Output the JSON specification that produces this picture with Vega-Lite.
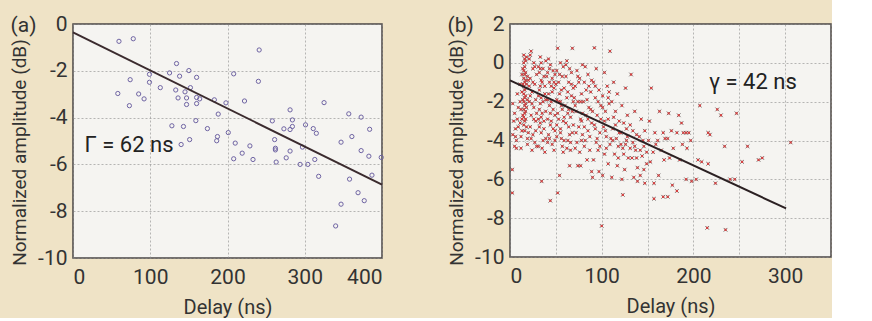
{
 "$schema": "https://vega.github.io/schema/vega-lite/v6.json",
 "background": "#efe3c6",
 "padding": {"left": 9, "top": 12, "right": 0, "bottom": 0},
 "spacing": 59,
 "config": {
  "font": "Roboto, sans-serif",
  "view": {"fill": "#f5f4f1", "stroke": "#4a4545", "strokeWidth": 1.5},
  "axis": {"labelFontSize": 21, "titleFontSize": 20, "labelColor": "#333", "titleColor": "#333", "titleFontWeight": "normal", "gridColor": "#8a8a8a", "gridDash": [2, 2], "gridOpacity": 0.6, "domain": false, "ticks": false, "labelPadding": 6, "labelOverlap": false, "labelSeparation": 0},
  "axisX": {"titlePadding": 10, "labelPadding": 8},
  "axisY": {"titleY": 128, "titlePadding": 8, "titleFontSize": 19},
  "title": {"fontSize": 21, "fontWeight": "normal", "color": "#333", "anchor": "start", "frame": "bounds", "dy": 3}
 },
 "datasets": {
  "b": [
      {"delay":3,"amp":-2.1},{"delay":5,"amp":-2.6},{"delay":4,"amp":-3.0},{"delay":6,"amp":-3.4},{"delay":3,"amp":-3.7},{"delay":7,"amp":-4.0},{"delay":5,"amp":-4.3},{"delay":8,"amp":-1.6},{"delay":8,"amp":-2.9},{"delay":9,"amp":-3.3},{"delay":2.5,"amp":-5.5},{"delay":2.5,"amp":-6.7},{"delay":6,"amp":-3.8},{"delay":9,"amp":-2.3},{"delay":7,"amp":-4.4},
      {"delay":15,"amp":0.4},{"delay":16,"amp":0.2},{"delay":15,"amp":0.0},{"delay":16,"amp":-0.2},{"delay":15,"amp":-0.4},{"delay":16,"amp":-0.6},{"delay":15,"amp":-0.8},{"delay":16,"amp":-1.0},{"delay":15,"amp":-1.2},{"delay":16,"amp":-1.4},{"delay":15,"amp":-1.6},{"delay":16,"amp":-1.8},{"delay":15,"amp":-2.0},{"delay":16,"amp":-2.2},{"delay":15,"amp":-2.4},{"delay":16,"amp":-2.6},{"delay":15,"amp":-2.8},{"delay":16,"amp":-3.0},{"delay":15,"amp":-3.2},{"delay":16,"amp":-3.5},{"delay":17,"amp":0.1},{"delay":17,"amp":-0.5},{"delay":17,"amp":-0.9},{"delay":17,"amp":-1.3},{"delay":17,"amp":-1.7},{"delay":17,"amp":-2.1},{"delay":17,"amp":-2.5},{"delay":17,"amp":-2.9},{"delay":14,"amp":-0.3},{"delay":14,"amp":-1.1},{"delay":14,"amp":-1.9},{"delay":14,"amp":-2.7},{"delay":12,"amp":-3.8},{"delay":19,"amp":-4.2},{"delay":12,"amp":-4.4},{"delay":11,"amp":-2.0},{"delay":11,"amp":-3.1},{"delay":13,"amp":-3.5},{"delay":19,"amp":-3.9},{"delay":18,"amp":0.3},
      {"delay":13,"amp":-0.6},{"delay":13,"amp":-1.5},{"delay":18,"amp":-1.1},{"delay":18,"amp":-2.3},{"delay":19,"amp":-0.7},{"delay":12,"amp":-2.4},{"delay":19,"amp":-1.9},{"delay":18,"amp":-3.3},{"delay":11,"amp":-1.1},{"delay":13,"amp":-2.9},
      {"delay":23,"amp":0.6},{"delay":21,"amp":0.2},{"delay":25,"amp":-0.3},{"delay":22,"amp":-0.8},{"delay":27,"amp":-1.1},{"delay":24,"amp":-1.5},{"delay":21,"amp":-2.0},{"delay":26,"amp":-2.3},{"delay":23,"amp":-2.7},{"delay":28,"amp":-3.0},{"delay":22,"amp":-3.3},{"delay":25,"amp":-3.7},{"delay":27,"amp":-4.1},{"delay":24,"amp":-4.5},{"delay":29,"amp":-0.6},{"delay":28,"amp":-1.9},{"delay":21,"amp":-1.2},{"delay":26,"amp":0.0},{"delay":29,"amp":-2.6},{"delay":23,"amp":-3.9},
      {"delay":20,"amp":-0.9},{"delay":22,"amp":-1.7},{"delay":24,"amp":-2.1},{"delay":26,"amp":-2.9},{"delay":28,"amp":-3.5},{"delay":20,"amp":-3.6},{"delay":27,"amp":-0.2},{"delay":25,"amp":-1.0},{"delay":29,"amp":-4.3},{"delay":22,"amp":0.4},
      {"delay":33,"amp":0.3},{"delay":34,"amp":0.0},{"delay":33,"amp":-0.3},{"delay":32,"amp":-0.5},{"delay":34,"amp":-0.9},{"delay":33,"amp":-1.2},{"delay":32,"amp":-1.4},{"delay":34,"amp":-1.8},{"delay":33,"amp":-2.1},{"delay":32,"amp":-2.4},{"delay":34,"amp":-2.8},{"delay":33,"amp":-3.1},{"delay":32,"amp":-3.3},{"delay":34,"amp":-3.6},{"delay":36,"amp":-4.0},{"delay":31,"amp":-4.3},{"delay":38,"amp":-4.6},{"delay":34.5,"amp":-6.1},{"delay":37,"amp":-0.7},{"delay":38,"amp":-1.6},{"delay":39,"amp":-2.5},{"delay":37,"amp":-3.0},{"delay":36,"amp":-2.0},{"delay":39,"amp":0.1},{"delay":35,"amp":-1.0},
      {"delay":31,"amp":-0.2},{"delay":31,"amp":-1.7},{"delay":35,"amp":-2.6},{"delay":37,"amp":-3.4},{"delay":39,"amp":-3.9},{"delay":36,"amp":-0.3},{"delay":38,"amp":-1.2},{"delay":31,"amp":-2.9},{"delay":35,"amp":-4.4},{"delay":39,"amp":-1.9},
      {"delay":42,"amp":0.2},{"delay":44,"amp":-0.1},{"delay":41,"amp":-0.5},{"delay":46,"amp":-0.8},{"delay":43,"amp":-1.0},{"delay":48,"amp":-1.3},{"delay":42,"amp":-1.6},{"delay":45,"amp":-2.0},{"delay":47,"amp":-2.4},{"delay":41,"amp":-2.9},{"delay":44,"amp":-3.2},{"delay":49,"amp":-3.5},{"delay":43,"amp":-3.9},{"delay":46,"amp":-4.2},{"delay":48,"amp":-4.5},{"delay":44,"amp":-7.1},{"delay":47,"amp":-0.4},{"delay":45,"amp":-1.2},{"delay":49,"amp":-2.7},{"delay":42,"amp":-3.7},{"delay":41,"amp":-1.9},{"delay":48,"amp":-1.0},
      {"delay":40,"amp":-0.7},{"delay":43,"amp":-2.2},{"delay":45,"amp":-3.0},{"delay":47,"amp":-3.4},{"delay":49,"amp":-4.0},{"delay":41,"amp":-4.1},{"delay":46,"amp":-1.5},{"delay":44,"amp":-2.6},{"delay":49,"amp":-0.6},{"delay":43,"amp":-0.3},
      {"delay":52,"amp":0.75},{"delay":55,"amp":0.0},{"delay":51,"amp":-0.4},{"delay":57,"amp":-0.7},{"delay":53,"amp":-1.0},{"delay":59,"amp":-1.3},{"delay":54,"amp":-1.6},{"delay":56,"amp":-2.2},{"delay":52,"amp":-2.6},{"delay":58,"amp":-3.0},{"delay":55,"amp":-3.4},{"delay":51,"amp":-3.8},{"delay":57,"amp":-4.3},{"delay":52,"amp":-6.7},{"delay":54,"amp":-5.8},{"delay":58,"amp":-0.2},{"delay":53,"amp":-2.0},{"delay":59,"amp":-2.8},{"delay":56,"amp":-3.9},{"delay":51,"amp":-1.9},
      {"delay":50,"amp":-1.1},{"delay":53,"amp":-2.9},{"delay":55,"amp":-3.6},{"delay":57,"amp":-2.4},{"delay":59,"amp":-4.0},{"delay":54,"amp":-0.6},{"delay":56,"amp":-1.4},{"delay":58,"amp":-4.6},{"delay":51,"amp":-3.2},{"delay":55,"amp":-2.0},
      {"delay":68,"amp":0.75},{"delay":62,"amp":0.1},{"delay":65,"amp":-0.3},{"delay":61,"amp":-0.7},{"delay":67,"amp":-1.1},{"delay":63,"amp":-1.5},{"delay":69,"amp":-2.0},{"delay":64,"amp":-2.4},{"delay":66,"amp":-2.8},{"delay":61,"amp":-3.1},{"delay":68,"amp":-3.6},{"delay":63,"amp":-4.0},{"delay":66,"amp":-4.5},{"delay":65,"amp":-5.3},{"delay":62,"amp":-1.8},{"delay":69,"amp":-1.3},{"delay":64,"amp":-3.3},{"delay":67,"amp":-0.5},
      {"delay":60,"amp":-2.2},{"delay":63,"amp":-2.6},{"delay":65,"amp":-3.7},{"delay":67,"amp":-1.7},{"delay":69,"amp":-3.2},{"delay":61,"amp":-0.1},{"delay":64,"amp":-1.0},{"delay":66,"amp":-4.1},{"delay":62,"amp":-4.4},{"delay":68,"amp":-2.5},
      {"delay":73,"amp":-0.4},{"delay":76,"amp":-0.8},{"delay":71,"amp":-1.2},{"delay":78,"amp":-1.6},{"delay":74,"amp":-2.0},{"delay":72,"amp":-2.5},{"delay":77,"amp":-2.9},{"delay":75,"amp":-3.3},{"delay":79,"amp":-3.7},{"delay":73,"amp":-4.1},{"delay":76,"amp":-4.6},{"delay":74,"amp":-5.3},{"delay":77,"amp":-5.3},{"delay":79,"amp":-0.1},{"delay":71,"amp":-2.2},{"delay":78,"amp":-3.0},
      {"delay":70,"amp":-1.8},{"delay":72,"amp":-3.6},{"delay":75,"amp":-1.0},{"delay":77,"amp":-2.0},{"delay":79,"amp":-2.6},{"delay":71,"amp":-4.4},{"delay":74,"amp":-0.7},{"delay":78,"amp":-4.0},
      {"delay":82,"amp":-0.2},{"delay":85,"amp":-0.6},{"delay":81,"amp":-1.0},{"delay":88,"amp":-1.5},{"delay":84,"amp":-1.9},{"delay":86,"amp":-2.3},{"delay":83,"amp":-2.7},{"delay":89,"amp":-3.1},{"delay":85,"amp":-3.5},{"delay":82,"amp":-4.0},{"delay":87,"amp":-4.5},{"delay":84,"amp":-5.0},{"delay":89,"amp":-5.6},{"delay":86,"amp":-1.2},{"delay":81,"amp":-3.3},
      {"delay":80,"amp":-2.0},{"delay":83,"amp":-1.4},{"delay":85,"amp":-2.9},{"delay":87,"amp":-3.8},{"delay":89,"amp":-0.9},{"delay":81,"amp":-4.3},{"delay":88,"amp":-2.4},
      {"delay":92,"amp":0.77},{"delay":94,"amp":-0.3},{"delay":91,"amp":-1.0},{"delay":97,"amp":-1.4},{"delay":93,"amp":-1.8},{"delay":99,"amp":-2.2},{"delay":95,"amp":-2.7},{"delay":92,"amp":-3.2},{"delay":98,"amp":-3.6},{"delay":94,"amp":-4.1},{"delay":96,"amp":-4.5},{"delay":91,"amp":-5.0},{"delay":97,"amp":-5.6},{"delay":90,"amp":-5.9},{"delay":100,"amp":-8.4},{"delay":99,"amp":-2.9},{"delay":93,"amp":-3.4},
      {"delay":90,"amp":-2.5},{"delay":93,"amp":-1.2},{"delay":95,"amp":-3.9},{"delay":98,"amp":-4.3},{"delay":101,"amp":-2.3},{"delay":103,"amp":-3.0},{"delay":105,"amp":-4.4},{"delay":107,"amp":-1.8},{"delay":110,"amp":-3.9},{"delay":96,"amp":-2.0},
      {"delay":109,"amp":0.6},{"delay":103,"amp":-0.5},{"delay":106,"amp":-1.2},{"delay":101,"amp":-1.7},{"delay":108,"amp":-2.1},{"delay":104,"amp":-2.5},{"delay":107,"amp":-2.9},{"delay":102,"amp":-3.3},{"delay":105,"amp":-3.8},{"delay":109,"amp":-4.2},{"delay":103,"amp":-4.7},{"delay":107,"amp":-5.2},{"delay":101,"amp":-5.8},{"delay":104,"amp":-3.5},{"delay":108,"amp":-1.5},
      {"delay":113,"amp":-1.0},{"delay":117,"amp":-1.6},{"delay":111,"amp":-2.0},{"delay":115,"amp":-2.5},{"delay":119,"amp":-3.0},{"delay":112,"amp":-3.4},{"delay":116,"amp":-3.9},{"delay":118,"amp":-4.3},{"delay":114,"amp":-4.7},{"delay":117,"amp":-5.3},{"delay":111,"amp":-5.9},{"delay":119,"amp":-3.6},{"delay":113,"amp":-2.8},
      {"delay":112,"amp":-4.0},{"delay":115,"amp":-3.2},{"delay":118,"amp":-4.9},{"delay":121,"amp":-4.2},{"delay":124,"amp":-4.7},{"delay":127,"amp":-3.4},{"delay":131,"amp":-4.4},{"delay":134,"amp":-3.5},{"delay":138,"amp":-4.9},{"delay":142,"amp":-4.5},{"delay":146,"amp":-5.5},{"delay":149,"amp":-4.6},
      {"delay":126,"amp":-1.3},{"delay":122,"amp":-2.2},{"delay":128,"amp":-2.7},{"delay":124,"amp":-3.1},{"delay":121,"amp":-3.6},{"delay":127,"amp":-4.0},{"delay":123,"amp":-4.4},{"delay":129,"amp":-4.9},{"delay":125,"amp":-5.5},{"delay":122,"amp":-6.0},{"delay":123,"amp":-6.8},{"delay":128,"amp":-3.8},{"delay":126,"amp":-4.2},
      {"delay":132,"amp":-0.6},{"delay":136,"amp":-2.5},{"delay":131,"amp":-3.2},{"delay":138,"amp":-3.7},{"delay":134,"amp":-4.1},{"delay":137,"amp":-4.5},{"delay":133,"amp":-4.9},{"delay":139,"amp":-5.4},{"delay":135,"amp":-5.9},{"delay":139,"amp":-6.1},{"delay":136,"amp":-4.3},
      {"delay":143,"amp":-2.9},{"delay":147,"amp":-3.5},{"delay":141,"amp":-3.8},{"delay":146,"amp":-4.3},{"delay":144,"amp":-4.8},{"delay":149,"amp":-5.2},{"delay":142,"amp":-5.8},{"delay":147,"amp":-6.2},{"delay":145,"amp":-4.0},
      {"delay":154,"amp":-1.3},{"delay":152,"amp":-3.0},{"delay":158,"amp":-3.6},{"delay":151,"amp":-4.0},{"delay":156,"amp":-4.6},{"delay":153,"amp":-5.1},{"delay":157,"amp":-6.2},{"delay":157,"amp":-7.0},{"delay":159,"amp":-4.2},
      {"delay":163,"amp":-2.5},{"delay":167,"amp":-3.6},{"delay":161,"amp":-4.0},{"delay":165,"amp":-4.5},{"delay":168,"amp":-5.0},{"delay":162,"amp":-5.8},{"delay":167,"amp":-6.9},{"delay":169,"amp":-3.9},
      {"delay":173,"amp":-2.6},{"delay":176,"amp":-3.5},{"delay":172,"amp":-3.9},{"delay":178,"amp":-4.4},{"delay":174,"amp":-4.9},{"delay":177,"amp":-6.3},{"delay":172,"amp":-6.9},
      {"delay":184,"amp":-2.7},{"delay":187,"amp":-3.1},{"delay":182,"amp":-3.6},{"delay":188,"amp":-4.2},{"delay":185,"amp":-5.0},{"delay":182,"amp":-6.6},{"delay":189,"amp":-3.6},
      {"delay":192,"amp":-3.6},{"delay":195,"amp":-3.6},{"delay":197,"amp":-4.0},{"delay":193,"amp":-4.4},{"delay":192,"amp":-6.0},{"delay":198,"amp":-6.1},
      {"delay":207,"amp":-2.2},{"delay":205,"amp":-5.0},{"delay":209,"amp":-5.1},{"delay":203,"amp":-6.0},{"delay":216,"amp":-3.6},{"delay":218,"amp":-3.7},{"delay":216,"amp":-5.2},{"delay":215,"amp":-8.5},{"delay":226,"amp":-2.4},{"delay":224,"amp":-6.2},{"delay":230,"amp":-2.7},{"delay":234,"amp":-4.3},{"delay":240,"amp":-6.0},{"delay":235,"amp":-8.6},{"delay":247,"amp":-2.6},{"delay":245,"amp":-6.0},{"delay":259,"amp":-4.3},{"delay":253,"amp":-5.1},{"delay":271,"amp":-5.0},{"delay":275,"amp":-4.9},{"delay":306,"amp":-4.1}
  ]
 },
 "hconcat": [
  {
   "width": 309, "height": 234,
   "title": {"text": "(a)", "offset": -20},
   "layer": [
    {
     "data": {"values": [
      {"delay":59.5,"amp":-0.74},{"delay":78,"amp":-0.63},{"delay":241,"amp":-1.11},{"delay":134,"amp":-1.69},{"delay":74,"amp":-2.38},{"delay":99,"amp":-2.15},{"delay":99,"amp":-2.49},{"delay":125,"amp":-2.09},{"delay":113,"amp":-2.72},{"delay":138,"amp":-2.23},{"delay":150,"amp":-1.99},{"delay":160,"amp":-2.28},{"delay":208,"amp":-2.13},{"delay":240,"amp":-2.45},{"delay":58,"amp":-2.97},{"delay":85,"amp":-2.99},{"delay":92,"amp":-3.2},{"delay":73,"amp":-3.49},{"delay":133,"amp":-2.82},{"delay":145,"amp":-2.9},{"delay":152,"amp":-2.72},{"delay":136,"amp":-3.16},{"delay":147,"amp":-3.16},{"delay":160,"amp":-3.14},{"delay":164,"amp":-3.2},{"delay":147,"amp":-3.44},{"delay":160,"amp":-3.4},{"delay":183,"amp":-3.24},{"delay":198,"amp":-3.37},{"delay":222,"amp":-3.29},{"delay":188,"amp":-3.85},{"delay":159,"amp":-4.13},{"delay":128,"amp":-4.35},{"delay":143,"amp":-4.38},{"delay":174,"amp":-4.47},{"delay":140,"amp":-5.15},{"delay":151,"amp":-4.94},{"delay":187,"amp":-4.81},{"delay":186,"amp":-4.99},{"delay":201,"amp":-4.64},{"delay":210,"amp":-5.09},{"delay":208,"amp":-5.76},{"delay":219,"amp":-5.52},{"delay":229,"amp":-5.21},{"delay":233,"amp":-5.79},{"delay":258,"amp":-4.14},{"delay":261,"amp":-4.94},{"delay":262,"amp":-5.31},{"delay":262,"amp":-5.38},{"delay":263,"amp":-5.9},{"delay":273,"amp":-4.48},{"delay":276,"amp":-5.72},{"delay":281,"amp":-3.67},{"delay":284,"amp":-4.1},{"delay":281,"amp":-4.51},{"delay":284,"amp":-4.38},{"delay":281,"amp":-5.43},{"delay":297,"amp":-5.26},{"delay":294,"amp":-6.0},{"delay":301,"amp":-4.31},{"delay":304,"amp":-6.0},{"delay":311,"amp":-4.47},{"delay":315,"amp":-4.67},{"delay":313,"amp":-5.79},{"delay":318,"amp":-6.51},{"delay":325,"amp":-3.36},{"delay":347,"amp":-5.05},{"delay":357,"amp":-3.84},{"delay":361,"amp":-4.81},{"delay":358,"amp":-6.63},{"delay":373,"amp":-3.98},{"delay":373,"amp":-5.41},{"delay":384,"amp":-4.5},{"delay":383,"amp":-5.65},{"delay":387,"amp":-6.46},{"delay":369,"amp":-7.21},{"delay":377,"amp":-7.55},{"delay":347,"amp":-7.7},{"delay":340,"amp":-8.63},{"delay":399,"amp":-5.7}
     ]},
     "mark": {"type": "point", "shape": "circle", "size": 18, "filled": false, "stroke": "#6f64a3", "strokeWidth": 1, "opacity": 1},
     "encoding": {
      "x": {"field": "delay", "type": "quantitative", "scale": {"domain": [0, 400], "nice": false}, "axis": {"values": [0, 100, 200, 300, 400], "tickCount": 10, "title": "Delay (ns)"}},
      "y": {"field": "amp", "type": "quantitative", "scale": {"domain": [-10, 0], "nice": false}, "axis": {"values": [0, -2, -4, -6, -8, -10], "tickCount": 10, "labelExpr": "replace(datum.label, '\u2212', '-')", "title": "Normalized amplitude (dB)"}}
     }
    },
    {
     "data": {"values": [{"delay": 0, "amp": -0.36}, {"delay": 400, "amp": -6.86}]},
     "mark": {"type": "line", "color": "#3b2b2e", "strokeWidth": 2},
     "encoding": {"x": {"field": "delay", "type": "quantitative"}, "y": {"field": "amp", "type": "quantitative"}}
    },
    {
     "data": {"values": [{"delay": 15, "amp": -5.17, "label": "Γ = 62 ns"}]},
     "mark": {"type": "text", "align": "left", "baseline": "middle", "fontSize": 22, "color": "#222"},
     "encoding": {"x": {"field": "delay", "type": "quantitative"}, "y": {"field": "amp", "type": "quantitative"}, "text": {"field": "label"}}
    }
   ]
  },
  {
   "width": 321, "height": 233,
   "title": {"text": "(b)", "offset": -20},
   "layer": [
    {
     "data": {"name": "b"},
     "mark": {"type": "point", "shape": "M-1,-1L1,1M-1,1L1,-1", "size": 14, "filled": false, "stroke": "#4f4444", "strokeWidth": 1},
     "encoding": {
      "x": {"field": "delay", "type": "quantitative", "scale": {"domain": [0, 350], "nice": false}, "axis": {"values": [0, 50, 100, 150, 200, 250, 300, 350], "tickCount": 10, "labelExpr": "datum.value % 100 === 0 ? datum.label : ''", "title": "Delay (ns)"}},
      "y": {"field": "amp", "type": "quantitative", "scale": {"domain": [-10, 2], "nice": false}, "axis": {"values": [2, 0, -2, -4, -6, -8, -10], "tickCount": 10, "labelExpr": "replace(datum.label, '\u2212', '-')", "title": "Normalized amplitude (dB)"}}
     }
    },
    {
     "data": {"name": "b"},
     "mark": {"type": "square", "size": 5, "color": "#d83a3a", "opacity": 0.9},
     "encoding": {"x": {"field": "delay", "type": "quantitative"}, "y": {"field": "amp", "type": "quantitative"}}
    },
    {
     "data": {"values": [{"delay": 0, "amp": -0.9}, {"delay": 301, "amp": -7.5}]},
     "mark": {"type": "line", "color": "#2b2022", "strokeWidth": 2},
     "encoding": {"x": {"field": "delay", "type": "quantitative"}, "y": {"field": "amp", "type": "quantitative"}}
    },
    {
     "data": {"values": [{"delay": 217, "amp": -1.0, "label": "γ = 42 ns"}]},
     "mark": {"type": "text", "align": "left", "baseline": "middle", "fontSize": 22, "color": "#222"},
     "encoding": {"x": {"field": "delay", "type": "quantitative"}, "y": {"field": "amp", "type": "quantitative"}, "text": {"field": "label"}}
    }
   ]
  }
 ]
}
